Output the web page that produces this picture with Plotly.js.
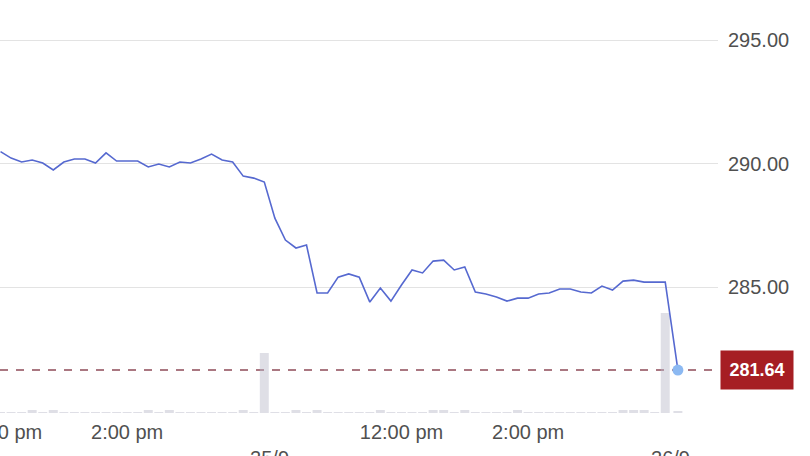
<!DOCTYPE html>
<html>
<head>
<meta charset="utf-8">
<script src="https://cdn.plot.ly/plotly-3.0.1.min.js"></script>
<style>
  html, body { margin: 0; padding: 0; background: #fff; }
  #chart { width: 810px; height: 456px; }
</style>
</head>
<body>
<div id="chart"></div>
<script>
// 10 minute intraday data, three sessions (24/9, 25/9, 26/9)
var day1Times = ['12:00', '12:10', '12:20', '12:30', '12:40', '12:50', '13:00', '13:10', '13:20', '13:30',
                 '13:40', '13:50', '14:00', '14:10', '14:20', '14:30', '14:40', '14:50', '15:00', '15:10',
                 '15:20', '15:30', '15:40', '15:50', '16:00', '16:10'];
var day1Prices = [290.48, 290.22, 290.06, 290.14, 290.02, 289.74, 290.06, 290.18, 290.18, 290.02,
                  290.43, 290.10, 290.10, 290.10, 289.86, 289.98, 289.86, 290.06, 290.02, 290.18,
                  290.38, 290.14, 290.06, 289.49, 289.41, 289.25];
var day1Volumes = [1, 1, 1, 3, 1, 3, 1, 1, 1, 1,
                   1, 1, 1, 1, 3, 1, 3, 1, 1, 1,
                   1, 1, 1, 3, 1, 60];

var day2Times = ['10:00', '10:10', '10:20', '10:30', '10:40', '10:50', '11:00', '11:10', '11:20', '11:30',
                 '11:40', '11:50', '12:00', '12:10', '12:20', '12:30', '12:40', '12:50', '13:00', '13:10',
                 '13:20', '13:30', '13:40', '13:50', '14:00', '14:10', '14:20', '14:30', '14:40', '14:50',
                 '15:00', '15:10', '15:20', '15:30', '15:40', '15:50', '16:00', '16:10'];
var day2Prices = [287.79, 286.90, 286.58, 286.70, 284.76, 284.76, 285.40, 285.53, 285.40, 284.39,
                  284.96, 284.43, 285.08, 285.69, 285.57, 286.05, 286.09, 285.69, 285.81, 284.80,
                  284.72, 284.60, 284.43, 284.55, 284.55, 284.72, 284.76, 284.92, 284.92, 284.80,
                  284.76, 285.04, 284.88, 285.24, 285.28, 285.20, 285.20, 285.20];
var day2Volumes = [1, 1, 3, 1, 3, 1, 1, 1, 1, 1,
                   3, 1, 1, 1, 1, 3, 3, 1, 3, 1,
                   1, 1, 1, 3, 1, 1, 1, 1, 1, 1,
                   1, 1, 1, 3, 3, 3, 1, 100];

var day3Times = ['10:02'];
var day3Prices = [281.64];
var day3Volumes = [2];

var tickVals = ['2025-09-24 12:00', '2025-09-24 14:00', '2025-09-25 09:55',
                '2025-09-25 12:00', '2025-09-25 14:00', '2025-09-26 09:55'];
var tickText = ['12:00 pm', '2:00 pm', ' <br>25/9', '12:00 pm', '2:00 pm', ' <br>26/9'];
var priceTicks = [285, 290, 295];

function stamp(day, list) {
    return list.map(function (t) { return day + ' ' + t; });
}

var times = stamp('2025-09-24', day1Times)
    .concat(stamp('2025-09-25', day2Times))
    .concat(stamp('2025-09-26', day3Times));
var prices = day1Prices.concat(day2Prices).concat(day3Prices);
var volumes = day1Volumes.concat(day2Volumes).concat(day3Volumes);

var lastTime = times[times.length - 1];
var lastPrice = prices[prices.length - 1];

var font = { family: 'Liberation Sans, Arial, sans-serif', size: 20, color: '#505050' };

var data = [
    {
        type: 'bar', x: times, y: volumes, yaxis: 'y',
        width: 510000,
        marker: { color: 'rgba(185,185,200,0.45)' },
        hoverinfo: 'skip'
    },
    {
        type: 'scatter', mode: 'lines', x: times, y: prices, yaxis: 'y2',
        line: { color: '#5669d0', width: 1.6 }
    },
    {
        type: 'scatter', mode: 'markers', x: [lastTime], y: [lastPrice], yaxis: 'y2',
        marker: { color: '#8cb9f2', size: 11 }
    }
];

var layout = {
    width: 810, height: 456,
    margin: { l: 0, r: 92, t: 0, b: 43 },
    paper_bgcolor: '#fff', plot_bgcolor: '#fff',
    showlegend: false,
    hovermode: false,
    xaxis: {
        type: 'date',
        range: ['2025-09-24 11:59:30', '2025-09-26 10:40'],
        rangebreaks: [{ values: ['2025-09-24 16:15', '2025-09-25 16:15'], dvalue: 63600000 }],
        tickmode: 'array', tickvals: tickVals, ticktext: tickText,
        tickangle: 0, ticks: '',
        ticklabeloverflow: 'allow',
        ticklabelstandoff: 5,
        showgrid: false, zeroline: false, showline: false,
        tickfont: font
    },
    yaxis: {
        range: [0, 413],
        visible: false, showgrid: false, zeroline: false
    },
    yaxis2: {
        overlaying: 'y', side: 'right',
        range: [279.9, 296.62],
        tickmode: 'array', tickvals: priceTicks, tickformat: '.2f',
        ticks: '', showgrid: true, gridcolor: '#e3e3e3', gridwidth: 1,
        zeroline: false, showline: false,
        ticklabelstandoff: 9,
        tickfont: font
    },
    shapes: [{
        type: 'line', layer: 'below',
        xref: 'paper', x0: 0, x1: 1,
        yref: 'y2', y0: lastPrice, y1: lastPrice,
        line: { color: '#8e4b58', width: 1.5, dash: '8px,8px' }
    }],
    annotations: [{
        xref: 'paper', x: 1, xanchor: 'left', xshift: 2,
        yref: 'y2', y: lastPrice, yanchor: 'middle',
        text: '<b>' + lastPrice.toFixed(2) + '</b>',
        showarrow: false,
        font: { family: 'Liberation Sans, Arial, sans-serif', size: 18, color: '#fff' },
        bgcolor: '#a61e23', borderpad: 4, width: 64, height: 30
    }]
};

Plotly.newPlot('chart', data, layout, { displayModeBar: false, staticPlot: true });
</script>
</body>
</html>
